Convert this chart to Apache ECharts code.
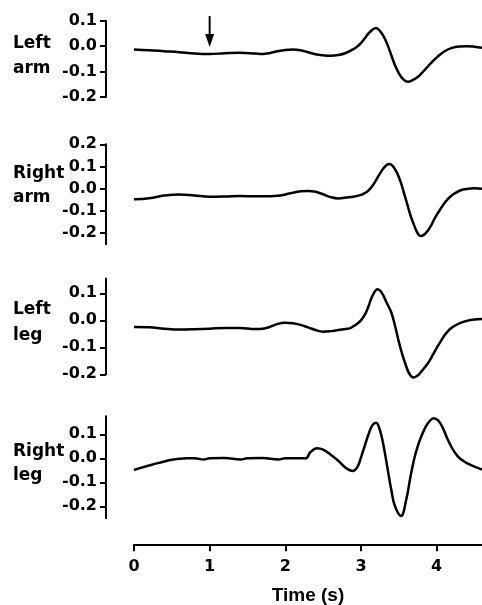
<!DOCTYPE html>
<html>
<head>
<meta charset="utf-8">
<script src="https://cdn.jsdelivr.net/npm/echarts@6/dist/echarts.min.js"></script>
<style>
html,body{margin:0;padding:0;background:#fff;}
#c{width:482px;height:605px;}
</style>
</head>
<body>
<div id="c"></div>
<script>
// ---- data ----
const panelNames = [["Left", "arm"], ["Right", "arm"], ["Left", "leg"], ["Right", "leg"]];

const laT = [0, 0.2, 0.4, 0.6, 0.8, 1.0, 1.2, 1.4, 1.6, 1.7, 1.8, 1.9, 2.0, 2.1, 2.2, 2.3, 2.4, 2.5, 2.6, 2.7, 2.8, 2.9, 2.95, 3.0, 3.05, 3.1, 3.15, 3.2, 3.25, 3.3, 3.35, 3.4, 3.45, 3.5, 3.56, 3.62, 3.68, 3.75, 3.8, 3.85, 3.9, 3.95, 4.0, 4.1, 4.2, 4.3, 4.4, 4.5, 4.6];
const laV = [-0.013, -0.016, -0.020, -0.024, -0.029, -0.031, -0.028, -0.026, -0.029, -0.031, -0.027, -0.020, -0.015, -0.013, -0.016, -0.024, -0.032, -0.036, -0.038, -0.035, -0.027, -0.012, -0.002, 0.012, 0.030, 0.050, 0.064, 0.071, 0.060, 0.038, 0.006, -0.035, -0.075, -0.106, -0.131, -0.140, -0.134, -0.121, -0.107, -0.091, -0.075, -0.059, -0.045, -0.021, -0.007, -0.001, 0.0, -0.002, -0.006];

const raT = [0, 0.2, 0.4, 0.6, 0.8, 1.0, 1.2, 1.4, 1.6, 1.8, 1.9, 2.0, 2.1, 2.2, 2.3, 2.4, 2.5, 2.6, 2.7, 2.8, 2.9, 3.0, 3.05, 3.1, 3.15, 3.2, 3.25, 3.3, 3.34, 3.38, 3.43, 3.48, 3.53, 3.57, 3.62, 3.66, 3.7, 3.74, 3.79, 3.85, 3.92, 3.98, 4.05, 4.12, 4.18, 4.25, 4.32, 4.4, 4.5, 4.6];
const raV = [-0.048, -0.043, -0.031, -0.026, -0.031, -0.036, -0.035, -0.033, -0.034, -0.034, -0.032, -0.026, -0.018, -0.012, -0.010, -0.014, -0.025, -0.038, -0.044, -0.040, -0.036, -0.028, -0.020, -0.008, 0.012, 0.039, 0.068, 0.093, 0.107, 0.111, 0.098, 0.069, 0.025, -0.021, -0.080, -0.126, -0.162, -0.195, -0.213, -0.203, -0.170, -0.130, -0.092, -0.058, -0.036, -0.019, -0.007, -0.001, 0.002, 0.0];

const llT = [0, 0.2, 0.4, 0.6, 0.8, 1.0, 1.2, 1.4, 1.6, 1.7, 1.8, 1.9, 2.0, 2.1, 2.2, 2.3, 2.4, 2.5, 2.6, 2.7, 2.8, 2.85, 2.9, 2.95, 3.0, 3.05, 3.1, 3.15, 3.22, 3.28, 3.34, 3.4, 3.45, 3.5, 3.55, 3.6, 3.64, 3.69, 3.75, 3.8, 3.85, 3.9, 3.95, 4.0, 4.05, 4.1, 4.15, 4.2, 4.3, 4.4, 4.5, 4.6];
const llV = [-0.025, -0.026, -0.031, -0.034, -0.033, -0.031, -0.028, -0.028, -0.032, -0.031, -0.024, -0.013, -0.009, -0.011, -0.017, -0.026, -0.036, -0.042, -0.040, -0.036, -0.032, -0.030, -0.022, -0.013, 0.0, 0.020, 0.052, 0.090, 0.115, 0.100, 0.065, 0.030, -0.020, -0.079, -0.130, -0.172, -0.198, -0.212, -0.204, -0.189, -0.172, -0.153, -0.128, -0.103, -0.080, -0.057, -0.040, -0.027, -0.011, -0.002, 0.003, 0.005];

const rlT = [0, 0.1, 0.2, 0.3, 0.4, 0.5, 0.6, 0.7, 0.8, 0.92, 1.0, 1.2, 1.41, 1.5, 1.7, 1.91, 2.0, 2.1, 2.27, 2.33, 2.42, 2.5, 2.6, 2.7, 2.8, 2.89, 2.95, 3.0, 3.05, 3.1, 3.15, 3.2, 3.25, 3.3, 3.35, 3.4, 3.45, 3.53, 3.6, 3.65, 3.7, 3.75, 3.8, 3.85, 3.9, 3.96, 4.02, 4.08, 4.15, 4.2, 4.25, 4.3, 4.35, 4.4, 4.5, 4.6];
const rlV = [-0.049, -0.039, -0.030, -0.021, -0.013, -0.006, -0.002, 0.0, 0.0, -0.005, 0.0, 0.001, -0.005, 0.0, 0.001, -0.005, 0.0, 0.0, 0.0, 0.025, 0.042, 0.036, 0.015, -0.010, -0.040, -0.053, -0.038, 0.003, 0.052, 0.100, 0.137, 0.148, 0.118, 0.050, -0.040, -0.130, -0.200, -0.240, -0.170, -0.085, -0.007, 0.050, 0.093, 0.128, 0.152, 0.167, 0.158, 0.128, 0.076, 0.045, 0.020, 0.002, -0.010, -0.020, -0.035, -0.047];

const xTicks = [0, 1, 2, 3, 4];
const yTicks = [
  [-0.2, -0.1, 0.0, 0.1],
  [-0.2, -0.1, 0.0, 0.1, 0.2],
  [-0.2, -0.1, 0.0, 0.1],
  [-0.2, -0.1, 0.0, 0.1]
];
const yRanges = [[-0.2, 0.1], [-0.25, 0.2], [-0.2, 0.155], [-0.25, 0.175]];
const xRange = [0, 4.6];

// stimulus arrow (time, top value, tip value) on the first panel
const arrowT = 1.0, arrowTop = 0.118, arrowTip = -0.003;

// ---- layout ----
const grids = [
  {top: 20.7, height: 76.3},
  {top: 144.3, height: 99.9},
  {top: 278.5, height: 95.8},
  {top: 416.3, height: 102}
];
const labelMid = [[44, 69], [173.5, 197.5], [310, 335.5], [451.5, 476]];

const series = [[laT, laV], [raT, raV], [llT, llV], [rlT, rlV]];
const tickFont = '"DejaVu Sans", sans-serif';

const chart = echarts.init(document.getElementById('c'), null, {renderer: 'canvas'});

const option = {
  animation: false,
  backgroundColor: '#fff',
  grid: grids.map(g => ({left: 134, right: 0, top: g.top, height: g.height, containLabel: false, outerBoundsMode: 'none'})),
  xAxis: grids.map((g, i) => {
    const last = i === 3;
    return {
      type: 'value', gridIndex: i, min: xRange[0], max: xRange[1], interval: 1,
      show: last, position: 'bottom', offset: last ? 26 : 0,
      splitLine: {show: false},
      axisLine: {show: last, onZero: false, lineStyle: {color: '#000', width: 2}},
      axisTick: {show: last, inside: false, length: 7, lineStyle: {color: '#000', width: 2}, customValues: xTicks},
      axisLabel: {show: last, color: '#000', fontWeight: 'bold', fontSize: 16, fontFamily: tickFont, margin: 15, customValues: xTicks},
      name: last ? 'Time (s)' : '',
      nameLocation: 'middle', nameGap: 42,
      nameTextStyle: {color: '#000', fontWeight: 'bold', fontSize: 19, fontFamily: '"Liberation Sans", Arial, sans-serif'}
    };
  }),
  yAxis: grids.map((g, i) => ({
    type: 'value', gridIndex: i, min: yRanges[i][0], max: yRanges[i][1],
    position: 'left', offset: 28,
    splitLine: {show: false},
    axisLine: {show: true, onZero: false, lineStyle: {color: '#000', width: 2}},
    axisTick: {show: true, inside: false, length: 6, lineStyle: {color: '#000', width: 2}, customValues: yTicks[i]},
    axisLabel: {show: true, color: '#000', fontWeight: 'bold', fontSize: 16, fontFamily: tickFont, margin: 9,
      customValues: yTicks[i], formatter: v => Number(v).toFixed(1)}
  })),
  series: series.map((s, i) => ({
    type: 'line', xAxisIndex: i, yAxisIndex: i,
    data: s[0].map((t, k) => [t, s[1][k]]),
    showSymbol: false, symbol: 'none', smooth: 0.4, clip: false,
    lineStyle: {color: '#000', width: 2.5}
  }))
};
chart.setOption(option);

// labels + arrow
const graphics = [];
panelNames.forEach((nm, i) => {
  nm.forEach((txt, j) => {
    graphics.push({
      type: 'text', silent: true,
      style: {text: txt, x: 13, y: labelMid[i][j], fill: '#000', align: 'left', verticalAlign: 'middle',
        font: 'bold 17px "DejaVu Sans", sans-serif'}
    });
  });
});
const pTop = chart.convertToPixel({gridIndex: 0}, [arrowT, arrowTop]);
const pTip = chart.convertToPixel({gridIndex: 0}, [arrowT, arrowTip]);
const headLen = 13, headHalf = 4.5;
graphics.push({
  type: 'line', silent: true,
  shape: {x1: pTop[0], y1: pTop[1], x2: pTip[0], y2: pTip[1] - headLen + 1},
  style: {stroke: '#000', lineWidth: 2}
});
graphics.push({
  type: 'polygon', silent: true,
  shape: {points: [[pTip[0] - headHalf, pTip[1] - headLen], [pTip[0] + headHalf, pTip[1] - headLen], [pTip[0], pTip[1]]]},
  style: {fill: '#000'}
});
chart.setOption({graphic: graphics});
</script>
</body>
</html>
